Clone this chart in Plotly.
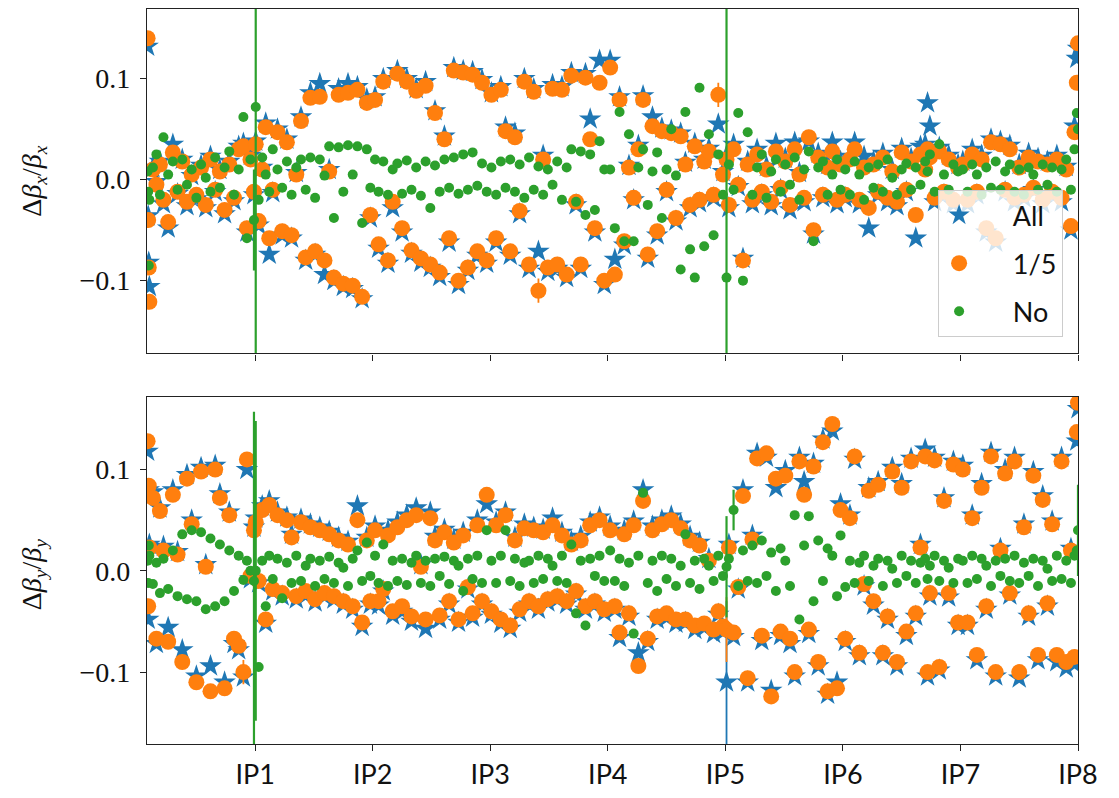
import plotly.graph_objects as go
from plotly.subplots import make_subplots

# BPM longitudinal positions, in units of the IP spacing (IPk sits at k)
s_bpm = [
    0.085, 0.09, 0.095, 0.10, 0.13, 0.16, 0.19, 0.22, 0.26, 0.30, 0.34, 0.38, 0.42, 0.46,
    0.50, 0.54, 0.58, 0.62, 0.66, 0.70, 0.74, 0.78, 0.82, 0.86, 0.90, 0.93, 0.96, 0.99,
    1.005, 1.03, 1.06, 1.09, 1.12, 1.15, 1.19, 1.23, 1.27, 1.31, 1.35, 1.39, 1.43, 1.47,
    1.51, 1.55, 1.59, 1.63, 1.67, 1.71, 1.75, 1.79, 1.83, 1.87, 1.91, 1.95, 1.98,
    2.02, 2.05, 2.09, 2.13, 2.17, 2.21, 2.25, 2.29, 2.33, 2.37, 2.41, 2.45, 2.49,
    2.53, 2.57, 2.61, 2.65, 2.69, 2.73, 2.77, 2.81, 2.85, 2.89, 2.93, 2.97,
    3.01, 3.05, 3.09, 3.13, 3.17, 3.21, 3.25, 3.29, 3.33, 3.37, 3.41, 3.45, 3.49,
    3.53, 3.57, 3.61, 3.65, 3.69, 3.73, 3.77, 3.81, 3.85, 3.89, 3.93, 3.97,
    4.02, 4.06, 4.10, 4.14, 4.18, 4.22, 4.26, 4.30, 4.34, 4.38, 4.42, 4.46, 4.50,
    4.54, 4.58, 4.62, 4.66, 4.70, 4.74, 4.78, 4.82, 4.86, 4.90, 4.94, 4.98,
    5.01, 5.03, 5.07, 5.11, 5.15, 5.19, 5.23, 5.27, 5.31, 5.35, 5.39, 5.43, 5.47,
    5.51, 5.55, 5.59, 5.63, 5.67, 5.71, 5.75, 5.79, 5.83, 5.87, 5.91, 5.95, 5.98,
    6.02, 6.06, 6.10, 6.14, 6.18, 6.22, 6.26, 6.30, 6.34, 6.38, 6.42, 6.46, 6.50,
    6.54, 6.58, 6.62, 6.66, 6.70, 6.72, 6.74, 6.78, 6.82, 6.86, 6.90, 6.94, 6.98,
    7.02, 7.06, 7.10, 7.14, 7.18, 7.22, 7.26, 7.30, 7.34, 7.38, 7.42, 7.46, 7.50,
    7.54, 7.58, 7.62, 7.66, 7.70, 7.74, 7.78, 7.82, 7.86, 7.90, 7.94, 7.97, 7.99, 8.00,
]

ip_ticks = [1, 2, 3, 4, 5, 6, 7, 8]
ip_labels = ["IP1", "IP2", "IP3", "IP4", "IP5", "IP6", "IP7", "IP8"]
y_ticks = [-0.1, 0.0, 0.1]
y_labels = ["\u22120.1", "0.0", "0.1"]
series_names = ["All", "1/5", "No"]

# ---- horizontal beta-beating, Delta beta_x / beta_x ----
bx_all = [
    0.132, -0.036, -0.082, -0.106, 0.012, -0.002, 0.018, -0.024, -0.048, 0.035, -0.014, 0.020, -0.026, 0.004,
    -0.019, 0.014, -0.028, 0.023, -0.012, 0.010, -0.034, 0.018, -0.021, 0.033, 0.036, -0.052, 0.024, -0.015,
    0.038, -0.045, 0.012, 0.056, -0.074, -0.013, 0.050, -0.055, 0.040, -0.058, 0.007, 0.062, -0.080, 0.086,
    -0.074, 0.095, -0.094, 0.010, -0.100, 0.090, -0.106, 0.095, -0.108, 0.092, -0.118, 0.080, -0.038,
    0.082, -0.068, 0.100, -0.083, -0.028, 0.108, -0.052, 0.100, -0.073, 0.090, -0.082, 0.097, -0.087,
    0.068, -0.096, 0.043, -0.062, 0.111, -0.104, 0.108, -0.090, 0.107, -0.075, 0.099, -0.083,
    0.086, -0.062, 0.092, 0.052, -0.075, 0.046, -0.034, 0.100, -0.088, 0.090, -0.071, 0.024, -0.091,
    0.094, -0.088, 0.092, -0.097, 0.106, -0.025, -0.088, 0.105, 0.060, -0.052, 0.118, -0.104,
    0.118, -0.079, 0.082, -0.065, 0.014, -0.020, 0.034, 0.083, -0.078, 0.062, -0.055, 0.051, -0.012,
    0.049, -0.041, 0.046, 0.017, -0.028, 0.036, -0.023, 0.020, 0.031, -0.018, 0.055, 0.008,
    0.024, -0.028, 0.035, -0.007, -0.078, 0.018, -0.024, 0.030, -0.015, 0.013, -0.026, 0.036, -0.010,
    0.021, -0.030, 0.037, 0.007, -0.022, 0.038, -0.054, 0.026, -0.018, 0.015, 0.037, -0.024, 0.018,
    -0.018, 0.023, 0.037, -0.024, 0.023, -0.048, 0.018, -0.015, 0.026, -0.022, 0.010, -0.026, 0.031,
    -0.012, 0.021, -0.058, 0.033, 0.035, 0.076, 0.053, -0.022, 0.032, -0.015, 0.024, -0.024, 0.015,
    0.018, -0.024, 0.030, -0.015, 0.024, -0.052, 0.040, -0.062, 0.038, -0.012, 0.034, -0.022, 0.015,
    -0.018, 0.026, -0.010, 0.021, -0.024, 0.018, -0.015, 0.024, -0.022, 0.013, -0.050, 0.053, 0.120, 0.130,
]
bx_fifth = [
    0.140, -0.040, -0.087, -0.121, 0.010, -0.005, 0.015, -0.020, -0.042, 0.027, -0.012, 0.018, -0.022, 0.005,
    -0.015, 0.012, -0.025, 0.020, -0.010, 0.008, -0.030, 0.015, -0.018, 0.030, 0.033, -0.048, 0.020, -0.012,
    0.035, -0.041, 0.010, 0.052, -0.058, -0.010, 0.047, -0.051, 0.037, -0.055, 0.005, 0.058, -0.077, 0.081,
    -0.071, 0.082, -0.080, 0.008, -0.097, 0.084, -0.103, 0.086, -0.105, 0.089, -0.116, 0.076, -0.035,
    0.079, -0.064, 0.097, -0.080, -0.022, 0.105, -0.048, 0.097, -0.070, 0.088, -0.078, 0.093, -0.084,
    0.066, -0.092, 0.040, -0.058, 0.108, -0.100, 0.106, -0.087, 0.104, -0.071, 0.096, -0.080,
    0.084, -0.058, 0.089, 0.048, -0.071, 0.042, -0.031, 0.097, -0.084, 0.087, -0.110, 0.020, -0.087,
    0.090, -0.084, 0.089, -0.094, 0.103, -0.022, -0.084, 0.101, 0.040, -0.048, 0.096, -0.100,
    0.111, -0.094, 0.079, -0.061, 0.012, -0.018, 0.030, 0.079, -0.074, 0.053, -0.051, 0.048, -0.010,
    0.046, -0.038, 0.043, 0.015, -0.025, 0.033, -0.020, 0.018, 0.028, -0.015, 0.084, 0.005,
    0.020, -0.025, 0.030, -0.005, -0.080, 0.015, -0.020, 0.025, -0.012, 0.010, -0.022, 0.028, -0.008,
    0.018, -0.025, 0.030, 0.005, -0.018, 0.042, -0.050, 0.022, -0.015, 0.012, 0.028, -0.020, 0.015,
    -0.015, 0.020, 0.030, -0.020, 0.012, -0.028, 0.015, -0.012, 0.022, -0.018, 0.008, -0.022, 0.027,
    -0.010, 0.018, -0.035, 0.025, 0.010, 0.030, 0.022, -0.018, 0.028, -0.012, 0.020, -0.020, 0.012,
    0.015, -0.020, 0.025, -0.012, 0.020, -0.048, 0.037, -0.058, 0.035, -0.010, 0.030, -0.018, 0.012,
    -0.015, 0.022, -0.008, 0.018, -0.020, 0.015, -0.012, 0.020, -0.018, 0.010, -0.046, 0.047, 0.096, 0.135,
]
bx_none = [
    0.008, -0.012, -0.085, -0.020, 0.012, 0.025, -0.015, 0.042, 0.005, 0.018, -0.010, 0.020, -0.005, 0.010,
    -0.018, 0.015, 0.002, -0.012, 0.022, -0.008, 0.012, 0.028, -0.015, 0.010, 0.062, -0.058, 0.020, -0.040,
    0.072, -0.020, 0.022, 0.005, -0.012, 0.030, 0.010, -0.008, 0.018, -0.015, 0.012, 0.020, -0.010, 0.022,
    -0.018, 0.020, 0.004, 0.033, -0.038, 0.032, -0.012, 0.034, 0.005, 0.033, -0.043, 0.030, -0.008,
    0.020, -0.012, 0.018, -0.015, 0.010, 0.016, -0.014, 0.019, -0.010, 0.012, -0.016, 0.018, -0.028,
    0.014, -0.012, 0.020, -0.008, 0.022, -0.014, 0.025, -0.010, 0.027, -0.006, 0.016, -0.012,
    0.012, -0.015, 0.018, -0.008, 0.020, -0.012, 0.015, -0.018, 0.022, -0.010, 0.013, -0.015, 0.010,
    -0.005, 0.018, -0.020, 0.012, 0.030, -0.022, 0.028, -0.035, 0.025, -0.030, 0.038, 0.010,
    0.010, -0.048, 0.067, -0.061, 0.045, -0.061, 0.012, 0.030, -0.025, 0.008, 0.027, -0.038, 0.010,
    0.050, 0.004, -0.089, 0.067, -0.069, -0.097, 0.091, -0.066, 0.045, -0.055, 0.025, -0.015,
    -0.097, 0.015, -0.010, 0.066, -0.100, 0.047, -0.015, 0.012, 0.025, -0.018, 0.008, 0.020, -0.012,
    0.015, -0.005, 0.022, -0.020, 0.010, 0.028, -0.061, 0.012, 0.018, -0.015, 0.005, 0.020, -0.010,
    0.010, -0.015, 0.018, 0.005, -0.020, 0.012, -0.008, 0.015, -0.012, 0.020, 0.002, -0.015, 0.010,
    0.016, -0.010, 0.012, -0.005, 0.018, 0.008, 0.025, -0.012, 0.035, 0.005, -0.010, 0.015, 0.008,
    0.010, -0.012, 0.015, 0.005, -0.015, 0.012, -0.008, 0.018, -0.010, 0.008, 0.015, -0.012, 0.010,
    -0.015, 0.012, 0.005, -0.010, 0.015, -0.005, 0.012, -0.012, 0.010, 0.020, -0.010, 0.030, 0.066, 0.050,
]

# ---- vertical beta-beating, Delta beta_y / beta_y ----
by_all = [
    0.118, -0.048, 0.080, 0.026, 0.078, -0.072, 0.062, 0.024, -0.056, 0.080, 0.019, -0.078, 0.095, 0.050,
    -0.104, 0.102, 0.006, -0.094, 0.104, 0.076, -0.110, 0.058, -0.072, -0.078, -0.105, 0.100, -0.008, 0.043,
    0.052, -0.012, 0.064, -0.052, 0.069, -0.020, 0.058, -0.025, 0.053, 0.036, -0.028, 0.051, -0.024, 0.046,
    -0.031, 0.043, -0.025, 0.039, -0.028, 0.033, -0.033, 0.029, -0.038, 0.064, -0.055, 0.033, -0.033,
    0.044, -0.034, -0.020, 0.040, -0.044, 0.048, -0.040, 0.055, -0.050, 0.062, 0.006, -0.057, 0.058,
    0.034, -0.048, 0.041, -0.033, 0.031, -0.051, 0.038, -0.018, -0.046, 0.050, -0.033, 0.066,
    -0.043, 0.048, -0.052, 0.058, -0.057, 0.033, -0.041, 0.046, -0.033, 0.043, -0.038, 0.041, -0.031,
    0.052, -0.028, 0.038, -0.033, 0.029, -0.023, 0.034, -0.038, 0.048, -0.033, 0.053, -0.041,
    0.044, -0.038, -0.066, 0.040, -0.045, 0.049, -0.081, 0.080, -0.070, 0.044, -0.048, 0.050, -0.046,
    0.054, -0.052, 0.046, -0.051, 0.034, -0.058, 0.028, -0.056, 0.012, -0.062, -0.043, -0.060,
    -0.110, 0.026, -0.065, -0.018, 0.080, -0.110, 0.035, 0.116, -0.069, 0.112, -0.118, 0.082, -0.064,
    0.099, -0.072, -0.104, 0.112, 0.088, -0.062, 0.106, -0.094, 0.130, -0.122, 0.138, -0.110, 0.066,
    -0.070, 0.055, 0.110, -0.084, -0.015, 0.082, -0.034, 0.088, -0.084, -0.048, 0.102, -0.094, 0.086,
    -0.064, 0.111, -0.045, 0.026, 0.120, -0.104, -0.025, 0.112, -0.098, 0.072, -0.026, 0.108, -0.054,
    0.104, -0.054, 0.055, -0.088, 0.086, -0.038, 0.117, -0.104, 0.022, 0.100, -0.024, 0.112, -0.106,
    0.046, -0.045, 0.098, -0.088, 0.074, -0.035, 0.049, -0.090, 0.112, -0.096, 0.022, -0.092, 0.128, 0.160,
]
by_fifth = [
    0.128, -0.035, 0.084, 0.023, 0.072, -0.067, 0.059, 0.020, -0.070, 0.075, 0.016, -0.090, 0.091, 0.046,
    -0.110, 0.098, 0.004, -0.119, 0.100, 0.072, -0.116, 0.055, -0.067, -0.074, -0.100, 0.110, -0.005, 0.040,
    0.048, -0.010, 0.060, -0.048, 0.065, -0.018, 0.055, -0.022, 0.050, 0.033, -0.025, 0.048, -0.020, 0.043,
    -0.028, 0.040, -0.022, 0.036, -0.025, 0.030, -0.030, 0.026, -0.035, 0.050, -0.051, 0.030, -0.030,
    0.040, -0.030, -0.018, 0.035, -0.040, 0.043, -0.035, 0.050, -0.045, 0.055, 0.004, -0.048, 0.052,
    0.030, -0.044, 0.038, -0.030, 0.028, -0.048, 0.035, -0.016, -0.042, 0.045, -0.030, 0.075,
    -0.040, 0.045, -0.048, 0.055, -0.054, 0.030, -0.038, 0.042, -0.030, 0.040, -0.035, 0.038, -0.028,
    0.045, -0.025, 0.035, -0.030, 0.026, -0.020, 0.030, -0.035, 0.045, -0.030, 0.050, -0.038,
    0.040, -0.035, -0.061, 0.036, -0.042, 0.045, -0.094, 0.069, -0.067, 0.040, -0.045, 0.046, -0.042,
    0.050, -0.048, 0.042, -0.048, 0.030, -0.054, 0.025, -0.052, 0.010, -0.058, -0.040, -0.055,
    -0.058, 0.023, -0.061, -0.016, 0.074, -0.106, 0.031, 0.111, -0.064, 0.116, -0.124, 0.091, -0.060,
    0.094, -0.067, -0.100, 0.108, 0.075, -0.058, 0.103, -0.090, 0.127, -0.119, 0.145, -0.116, 0.060,
    -0.067, 0.052, 0.113, -0.081, -0.013, 0.079, -0.030, 0.085, -0.081, -0.045, 0.098, -0.090, 0.082,
    -0.060, 0.108, -0.042, 0.023, 0.113, -0.100, -0.022, 0.109, -0.095, 0.069, -0.022, 0.105, -0.051,
    0.100, -0.051, 0.052, -0.083, 0.082, -0.035, 0.113, -0.100, 0.020, 0.096, -0.022, 0.108, -0.100,
    0.043, -0.042, 0.094, -0.083, 0.070, -0.032, 0.046, -0.083, 0.108, -0.090, 0.020, -0.085, 0.137, 0.166,
]
by_none = [
    0.010, -0.012, 0.025, 0.015, -0.013, 0.008, -0.022, 0.012, -0.018, 0.020, -0.025, 0.036, -0.028, 0.040,
    -0.030, 0.038, -0.038, 0.032, -0.035, 0.026, -0.030, 0.020, -0.020, 0.015, -0.009, 0.010, 0.000, -0.010,
    0.000, -0.095, 0.010, -0.035, 0.015, -0.008, 0.012, -0.027, 0.008, -0.012, 0.015, -0.010, 0.005, 0.012,
    -0.015, 0.010, -0.008, 0.014, -0.012, 0.008, 0.003, -0.015, 0.012, 0.020, -0.010, 0.028, -0.005,
    0.015, -0.012, 0.026, -0.015, 0.010, -0.010, 0.012, -0.014, 0.008, 0.015, -0.012, 0.010, -0.015,
    0.012, -0.005, 0.014, -0.013, 0.010, 0.005, -0.020, 0.012, -0.008, 0.015, -0.012, 0.040,
    0.010, -0.012, 0.015, 0.040, -0.010, 0.012, -0.015, 0.008, 0.010, -0.012, 0.015, -0.008, 0.012,
    0.005, -0.010, 0.015, -0.012, 0.026, -0.042, 0.010, -0.054, 0.012, -0.005, 0.015, -0.010,
    0.020, -0.010, 0.012, -0.015, 0.008, -0.062, 0.015, 0.077, -0.012, 0.010, -0.020, 0.015, -0.008,
    0.012, -0.015, 0.005, 0.036, -0.012, 0.010, -0.018, 0.012, 0.005, -0.010, 0.015, -0.005,
    0.004, 0.012, 0.060, -0.015, 0.020, -0.010, 0.025, -0.012, 0.030, -0.005, 0.018, -0.020, 0.022,
    0.010, -0.015, 0.055, -0.048, 0.025, 0.054, -0.030, 0.030, -0.010, 0.022, 0.015, -0.025, 0.035,
    -0.016, 0.010, -0.012, 0.008, 0.015, -0.010, 0.005, 0.012, -0.015, 0.010, 0.002, -0.012, 0.015,
    -0.005, 0.010, -0.012, 0.008, 0.012, -0.008, 0.005, 0.015, -0.010, 0.010, 0.003, -0.012, 0.012,
    0.010, -0.012, 0.015, -0.008, 0.012, 0.005, -0.015, 0.010, -0.005, 0.012, -0.010, 0.015, -0.012,
    0.008, -0.005, 0.012, -0.015, 0.010, 0.002, -0.010, 0.015, -0.008, 0.010, -0.012, 0.015, 0.020, 0.040,
]

# Measurement uncertainties: a typical value per series plus the BPMs with large errors
err_typical = {"All": 0.004, "1/5": 0.004, "No": 0.003}
bx_err_large = {"All": {}, "1/5": {3.41: 0.012, 4.94: 0.012}, "No": {0.99: 0.05, 1.005: 0.5, 5.01: 0.5}}
by_err_large = {"All": {5.01: 0.08}, "1/5": {0.90: 0.012, 5.01: 0.032},
                "No": {0.99: 0.167, 1.005: 0.148, 5.01: 0.05, 5.07: 0.02, 8.00: 0.045}}

colors = {"All": "#1f77b4", "1/5": "#ff7f0e", "No": "#2ca02c"}
symbols = {"All": "star", "1/5": "circle", "No": "circle"}
sizes = {"All": 17, "1/5": 16, "No": 10}
# legend entries carry a wide gap between symbol and label
legend_labels = {"All": "\u2003\u2002All", "1/5": "\u2003\u20021/5", "No": "\u2003\u2002No"}


def errors(name, large):
    return [large[name].get(s, err_typical[name]) for s in s_bpm]


fig = make_subplots(rows=2, cols=1, shared_xaxes=True)

for row, values, large in ((1, (bx_all, bx_fifth, bx_none), bx_err_large),
                           (2, (by_all, by_fifth, by_none), by_err_large)):
    for name, ys in zip(series_names, values):
        fig.add_trace(go.Scatter(
            x=s_bpm, y=ys, mode="markers", name=legend_labels[name],
            legendgroup=name, showlegend=(row == 1),
            marker=dict(symbol=symbols[name], size=sizes[name], color=colors[name],
                        line=dict(width=0)),
            error_y=dict(type="data", array=errors(name, large), color=colors[name],
                         thickness=2.2 if name == "No" else 1.8, width=0),
        ), row=row, col=1)

axis_line = dict(showline=True, linecolor="#222222", linewidth=1.4, mirror=True,
                 showgrid=False, zeroline=False, ticks="outside", ticklen=6,
                 tickwidth=1.3, tickcolor="#222222")

fig.update_xaxes(range=[0.08, 8.0], tickvals=ip_ticks, ticktext=ip_labels, **axis_line)
fig.update_xaxes(showticklabels=False, row=1, col=1)
fig.update_xaxes(tickfont=dict(family="Lato", size=27, color="#111111"), row=2, col=1)
fig.update_yaxes(tickvals=y_ticks, ticktext=y_labels,
                 tickfont=dict(family="Liberation Serif", size=28, color="#111111"),
                 ticklabelstandoff=4, **axis_line)

fig.update_layout(
    width=1119, height=798,
    margin=dict(l=147, r=41, t=8, b=43),
    paper_bgcolor="white", plot_bgcolor="white",
    yaxis=dict(domain=[0.5315, 1.0], range=[-0.172, 0.169]),
    yaxis2=dict(domain=[0.0, 0.4726], range=[-0.171, 0.172]),
    legend=dict(x=0.984, y=0.7537, xanchor="right", yanchor="top",
                bgcolor="rgba(255,255,255,0.8)", bordercolor="#cccccc", borderwidth=1,
                font=dict(family="Lato", size=27, color="#111111"),
                tracegroupgap=10),
    annotations=[
        dict(text="\u0394<i>\u03b2</i><sub><i>x</i></sub>/<i>\u03b2</i><sub><i>x</i></sub>",
             xref="paper", yref="paper", x=-0.122, y=0.7657, textangle=-90,
             showarrow=False, xanchor="center", yanchor="middle",
             font=dict(family="Liberation Serif", size=28, color="#111111")),
        dict(text="\u0394<i>\u03b2</i><sub><i>y</i></sub>/<i>\u03b2</i><sub><i>y</i></sub>",
             xref="paper", yref="paper", x=-0.122, y=0.2303, textangle=-90,
             showarrow=False, xanchor="center", yanchor="middle",
             font=dict(family="Liberation Serif", size=28, color="#111111")),
    ],
)

fig.write_html("out.html")
